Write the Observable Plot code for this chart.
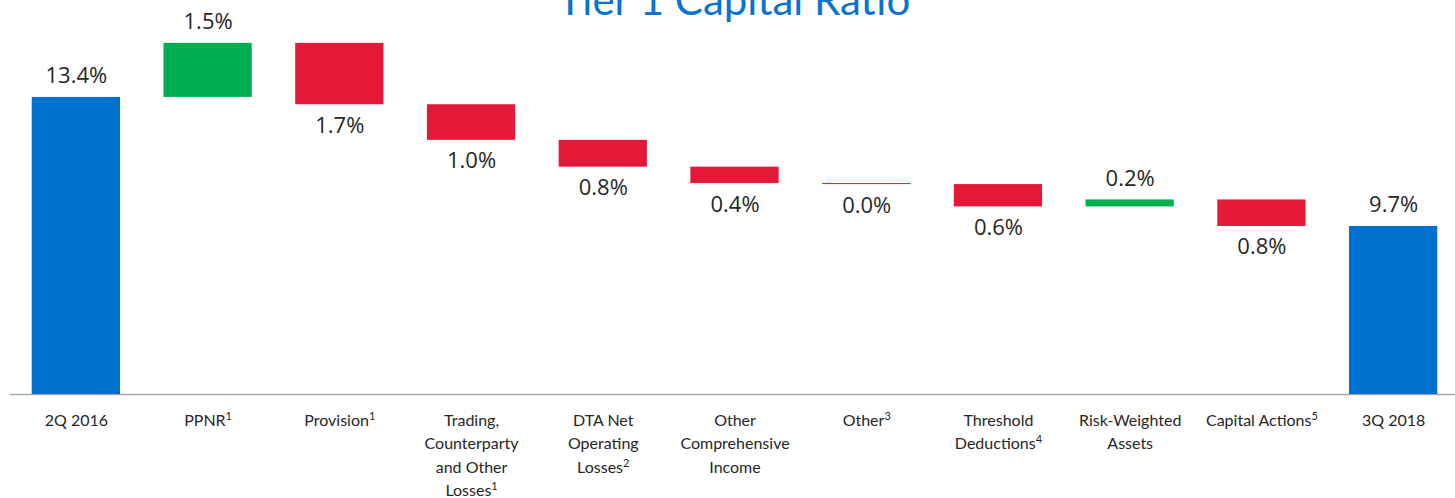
<!DOCTYPE html>
<html><head><meta charset="utf-8">
<script src="https://cdn.jsdelivr.net/npm/d3@7"></script>
<script src="https://cdn.jsdelivr.net/npm/@observablehq/plot@0.6"></script>
<style>
body{margin:0;background:#fff;position:relative;width:1455px;height:498px;overflow:hidden}
#title{position:absolute;left:0;width:1468px;top:-22px;text-align:center;font:42px Lato;color:#0A72CF;line-height:1;white-space:nowrap}
#chart{position:absolute;left:0;top:0}
</style></head><body>
<div id="chart"></div>
<div id="title">Tier 1 Capital Ratio</div>
<script>
const categories = ["2Q 2016","PPNR¹","Provision¹","Trading,\nCounterparty\nand Other\nLosses¹","DTA Net\nOperating\nLosses²","Other\nComprehensive\nIncome","Other³","Threshold\nDeductions⁴","Risk-Weighted\nAssets","Capital Actions⁵","3Q 2018"];
const startValue = 13.4;
const endValue = 9.7;
const deltas = [1.55, -1.76, -1.02, -0.77, -0.47, -0.03, -0.64, 0.20, -0.76];
const valueLabels = ["13.4%","1.5%","1.7%","1.0%","0.8%","0.4%","0.0%","0.6%","0.2%","0.8%","9.7%"];
const colors = {total: "#0070CE", up: "#00AF50", down: "#E31937"};
const yMin = 4.88, yMax = 16.18;

const records = [];
records.push({cat: categories[0], low: yMin, high: startValue, color: colors.total, label: valueLabels[0], up: true});
let level = startValue;
deltas.forEach((d, i) => {
  const next = level + d;
  records.push({cat: categories[i + 1], low: Math.min(level, next), high: Math.max(level, next),
    color: d >= 0 ? colors.up : colors.down, label: valueLabels[i + 1], up: d >= 0});
  level = next;
});
records.push({cat: categories[categories.length - 1], low: yMin, high: endValue, color: colors.total, label: valueLabels[valueLabels.length - 1], up: true});

const chart = Plot.plot({
  width: 1455,
  height: 498,
  marginTop: 0,
  marginBottom: 104,
  marginLeft: 10,
  marginRight: 0,
  x: {domain: categories, range: [10, 1459], paddingInner: 0.33, paddingOuter: 0.165, round: false, axis: null},
  y: {domain: [yMin, yMax], axis: null},
  color: {type: "identity"},
  marks: [
    Plot.ruleY([yMin], {stroke: "#A6A6A6", strokeWidth: 1.5}),
    Plot.barY(records, {x: "cat", y1: "low", y2: "high", fill: "color"}),
    Plot.text(records.filter(d => d.up), {x: "cat", y: "high", text: "label", dy: -21, fontSize: 22, fontFamily: "Open Sans", fill: "#262626"}),
    Plot.text(records.filter(d => !d.up), {x: "cat", y: "low", text: "label", dy: 21, fontSize: 22, fontFamily: "Open Sans", fill: "#262626"}),
    Plot.text(categories, {x: d => d, frameAnchor: "bottom", lineAnchor: "top", dy: 15, lineHeight: 1.46, fontSize: 16, fontFamily: "Lato", fill: "#262626"})
  ]
});
// render superscript characters as raised digits
const supMap = {"¹": "1", "²": "2", "³": "3", "⁴": "4", "⁵": "5"};
chart.querySelectorAll("text, tspan").forEach(el => {
  if (el.children.length) return;
  const t = el.textContent;
  const m = t.match(/[¹²³⁴⁵]$/);
  if (!m) return;
  el.textContent = t.slice(0, -1);
  const ns = "http://www.w3.org/2000/svg";
  const sup = document.createElementNS(ns, "tspan");
  sup.setAttribute("font-size", "11");
  sup.setAttribute("baseline-shift", "super");
  sup.textContent = supMap[m[0]];
  el.appendChild(sup);
});
document.getElementById("chart").appendChild(chart);
</script>
</body></html>
